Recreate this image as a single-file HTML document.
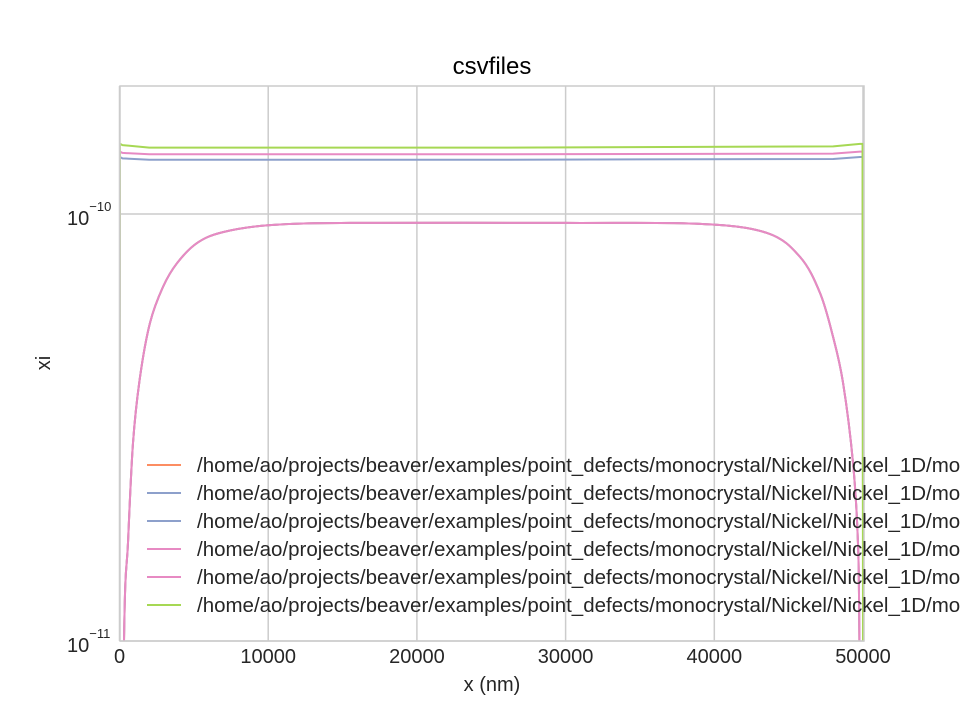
<!DOCTYPE html>
<html><head><meta charset="utf-8"><style>
html,body{margin:0;padding:0;background:#fff;width:960px;height:720px;overflow:hidden;}
svg{display:block;}
svg text{font-family:"Liberation Sans","DejaVu Sans",sans-serif;fill:#262626;}
</style></head><body>
<svg id="chart" width="960" height="720" viewBox="0 0 960 720">
<defs><clipPath id="clip"><rect x="120" y="86" width="744" height="555"/></clipPath></defs>
<rect x="120" y="86" width="744" height="555" fill="#fff"/>
<g id="grid"></g>
<g id="series" clip-path="url(#clip)"></g>
<rect x="120" y="86" width="744" height="555" fill="none" stroke="#ccc" stroke-width="1.5"/>
<g id="axes"></g>
<text x="492" y="74" font-size="24" text-anchor="middle" style="fill:#000">csvfiles</text>
<text x="492" y="691" font-size="20" text-anchor="middle">x (nm)</text>
<text transform="translate(50,363) rotate(-90)" font-size="20" text-anchor="middle">xi</text>
<g id="legend"></g>
</svg>
<script>
const xTicks=[0,10000,20000,30000,40000,50000];
const yTicks=[-10,-11];
const curveX=[0,303,572,908,1379,2051,2925,3867,5212,6960,10120,15500,30000,39040,43540,45770,47110,47990,48660,49330,49660,49760,50000];
const curveY=[1e-12,1.00e-11,1.70e-11,2.91e-11,4.15e-11,5.56e-11,6.75e-11,7.67e-11,8.55e-11,9.07e-11,9.42e-11,9.53e-11,9.53e-11,9.48e-11,9.03e-11,7.93e-11,6.53e-11,5.15e-11,4.02e-11,2.61e-11,1.70e-11,0.99e-11,1e-12];
const flatX=[0,30,200,2000,25000,48000,49800,49970,50000];
const greenY=[2e-11,1.46e-10,1.45e-10,1.43e-10,1.43e-10,1.44e-10,1.46e-10,1.46e-10,1e-11];
const pinkY=[2e-11,1.40e-10,1.39e-10,1.38e-10,1.38e-10,1.385e-10,1.40e-10,1.40e-10,2e-11];
const blueY=[2e-11,1.36e-10,1.35e-10,1.34e-10,1.34e-10,1.345e-10,1.36e-10,1.36e-10,2e-11];
const legendLabels=["orange","blue","blue","pink","pink","green"];
const NS="http://www.w3.org/2000/svg";
const colors={orange:"#fc8d62",blue:"#8da0cb",pink:"#e78ac3",green:"#a6d854"};
function sx(v){return 119.5+v*(863-119.5)/50000;}
function sy(v){return 214-(Math.log10(v)+10)*427;}
const grid=document.getElementById('grid'),axes=document.getElementById('axes');
xTicks.forEach(t=>{
 const l=document.createElementNS(NS,'line');
 l.setAttribute('x1',sx(t));l.setAttribute('x2',sx(t));l.setAttribute('y1',86);l.setAttribute('y2',641);
 l.setAttribute('stroke','#ccc');l.setAttribute('stroke-width','1.5');
 
 
 grid.appendChild(l);
 const tx=document.createElementNS(NS,'text');
 tx.setAttribute('x',sx(t));tx.setAttribute('y',663);tx.setAttribute('font-size','20');tx.setAttribute('text-anchor','middle');
 tx.textContent=t;
 
 
 axes.appendChild(tx);
});
yTicks.forEach(t=>{
 const y=sy(Math.pow(10,t));
 const l=document.createElementNS(NS,'line');
 l.setAttribute('x1',120);l.setAttribute('x2',864);l.setAttribute('y1',y);l.setAttribute('y2',y);
 l.setAttribute('stroke','#ccc');l.setAttribute('stroke-width','1.5');
 
 
 grid.appendChild(l);
 const tx=document.createElementNS(NS,'text');
 tx.setAttribute('x',67);tx.setAttribute('y',y+11);tx.setAttribute('font-size','20');
 tx.innerHTML='10<tspan font-size="13" dy="-14">\u2212'+(-t)+'</tspan>';
 
 
 axes.appendChild(tx);
});
const series=document.getElementById('series');
function drawLine(xs,ys,color,name,smooth){
 const pts=xs.map((x,i)=>[sx(x),sy(ys[i])]);
 let d='M'+pts[0][0]+','+pts[0][1];
 for(let i=0;i<pts.length-1;i++){
  const p0=pts[Math.max(0,i-1)],p1=pts[i],p2=pts[i+1],p3=pts[Math.min(pts.length-1,i+2)];
  if(!smooth){d+=' L'+p2[0]+','+p2[1];continue;}
  const t=1/6;
  d+=' C'+(p1[0]+(p2[0]-p0[0])*t)+','+(p1[1]+(p2[1]-p0[1])*t)+' '+(p2[0]-(p3[0]-p1[0])*t)+','+(p2[1]-(p3[1]-p1[1])*t)+' '+p2[0]+','+p2[1];
 }
 const p=document.createElementNS(NS,'path');
 p.setAttribute('d',d);
 p.setAttribute('fill','none');p.setAttribute('stroke',color);p.setAttribute('stroke-width','2');
 p.setAttribute('stroke-linejoin','round');
 
 
 series.appendChild(p);
}
drawLine(curveX,curveY,colors.orange,'series-orange',true);
drawLine(curveX,curveY,colors.blue,'series-blue-low',true);
drawLine(curveX,curveY,colors.pink,'series-pink-low',true);
drawLine(flatX,blueY,colors.blue,'series-blue-high',false);
drawLine(flatX,pinkY,colors.pink,'series-pink-high',false);
drawLine(flatX,greenY,colors.green,'series-green',false);
const legend=document.getElementById('legend');
legendLabels.forEach((c,i)=>{
 const y=465+i*28;
 const l=document.createElementNS(NS,'line');
 l.setAttribute('x1',147);l.setAttribute('x2',181);l.setAttribute('y1',y);l.setAttribute('y2',y);
 l.setAttribute('stroke',colors[c]);l.setAttribute('stroke-width','2');
 
 
 legend.appendChild(l);
 const t=document.createElementNS(NS,'text');
 t.setAttribute('x',197);t.setAttribute('y',y+7);t.setAttribute('font-size','20');
 t.setAttribute('textLength','786');t.setAttribute('lengthAdjust','spacingAndGlyphs');
 t.textContent='/home/ao/projects/beaver/examples/point_defects/monocrystal/Nickel/Nickel_1D/mono';
 
 
 legend.appendChild(t);
});
</script>
</body></html>
